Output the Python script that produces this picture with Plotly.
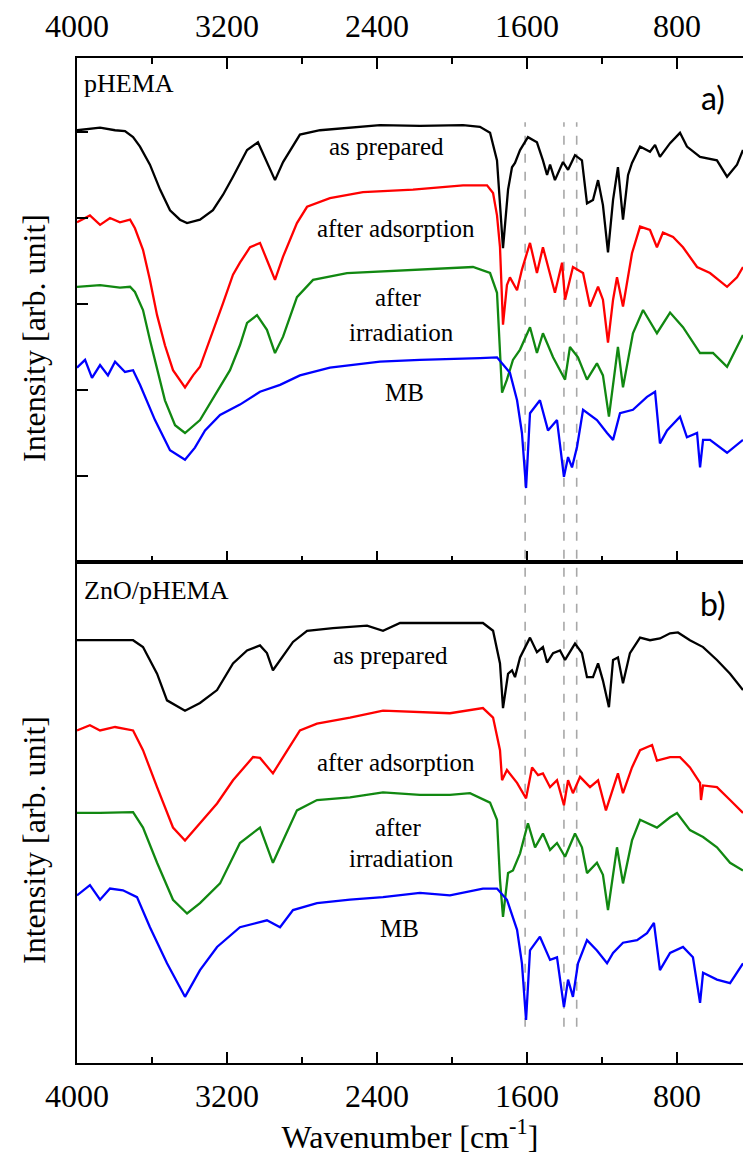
import plotly.graph_objects as go

# ---------------- data ----------------
# Panel a) pHEMA
wn_a_black = [4000, 3877, 3797, 3744, 3701, 3664, 3611, 3557, 3504, 3451, 3413, 3344, 3275, 3221, 3168, 3093, 3035, 2987, 2944, 2901,
              2848, 2811, 2704, 2384, 2171, 1941, 1851, 1797, 1760, 1744, 1728, 1701, 1680, 1664, 1637, 1595, 1547, 1515, 1493, 1477,
              1451, 1408, 1381, 1344, 1307, 1280, 1248, 1221, 1195, 1168, 1141, 1115, 1088, 1061, 1040, 997, 944, 917, 891, 837,
              784, 747, 677, 587, 533, 480, 448]
int_a_black = [5.02, 5.05, 5.02, 5.01, 4.94, 4.83, 4.62, 4.33, 4.09, 3.98, 3.94, 3.98, 4.09, 4.27, 4.48, 4.79, 4.88, 4.64, 4.44, 4.65,
               4.83, 4.97, 5.02, 5.08, 5.07, 5.08, 5.06, 4.99, 4.67, 4.21, 3.65, 4.33, 4.59, 4.64, 4.79, 4.94, 4.88, 4.67, 4.50, 4.62,
               4.44, 4.65, 4.56, 4.73, 4.67, 4.17, 4.21, 4.44, 4.15, 3.60, 4.21, 4.59, 3.98, 4.50, 4.64, 4.83, 4.77, 4.85, 4.71, 4.87,
               4.99, 4.83, 4.71, 4.67, 4.48, 4.62, 4.79]

wn_a_red = [4000, 3931, 3877, 3824, 3771, 3717, 3691, 3648, 3611, 3573, 3531, 3488, 3424, 3381, 3344, 3275, 3221, 3168, 3131, 3077,
            3024, 2981, 2944, 2901, 2827, 2773, 2651, 2475, 2208, 1941, 1813, 1781, 1760, 1744, 1728, 1707, 1691, 1653, 1627, 1584,
            1547, 1515, 1477, 1451, 1413, 1397, 1355, 1301, 1264, 1221, 1195, 1168, 1141, 1120, 1088, 1040, 997, 944, 907, 875,
            821, 768, 693, 624, 533, 480, 448]
int_a_red = [3.95, 4.03, 3.92, 4.00, 3.95, 3.98, 3.88, 3.63, 3.28, 2.87, 2.52, 2.23, 2.03, 2.17, 2.27, 2.70, 3.01, 3.34, 3.48, 3.66,
             3.71, 3.48, 3.28, 3.55, 3.94, 4.13, 4.23, 4.30, 4.33, 4.38, 4.38, 4.29, 4.03, 3.66, 2.76, 3.22, 3.31, 3.16, 3.40, 3.71,
             3.36, 3.66, 3.34, 3.13, 3.48, 3.05, 3.43, 3.36, 2.97, 3.20, 3.05, 2.55, 3.05, 3.31, 2.97, 3.59, 3.90, 3.86, 3.66, 3.83,
             3.78, 3.66, 3.43, 3.36, 3.20, 3.31, 3.43]

wn_a_green = [4000, 3877, 3771, 3717, 3691, 3648, 3611, 3531, 3477, 3424, 3344, 3264, 3184, 3131, 3093, 3040, 2987, 2944, 2901, 2827,
              2741, 2560, 2208, 1888, 1797, 1760, 1733, 1707, 1675, 1637, 1584, 1547, 1515, 1461, 1397, 1371, 1328, 1280, 1227, 1195,
              1163, 1115, 1088, 1035, 981, 907, 837, 768, 677, 608, 533, 464, 448]
int_a_green = [3.20, 3.22, 3.19, 3.20, 3.14, 2.93, 2.58, 1.88, 1.59, 1.50, 1.65, 1.94, 2.23, 2.52, 2.78, 2.87, 2.70, 2.43, 2.62, 3.08,
               3.28, 3.36, 3.40, 3.43, 3.36, 3.13, 1.97, 2.12, 2.35, 2.47, 2.73, 2.43, 2.66, 2.38, 2.12, 2.50, 2.38, 2.12, 2.31, 2.17,
               1.69, 2.50, 2.03, 2.66, 2.93, 2.66, 2.90, 2.73, 2.43, 2.43, 2.27, 2.58, 2.64]

wn_a_blue = [4000, 3957, 3920, 3877, 3835, 3797, 3744, 3701, 3664, 3584, 3504, 3424, 3371, 3317, 3237, 3131, 3024, 2917, 2811, 2651,
             2384, 2171, 1851, 1760, 1691, 1653, 1627, 1605, 1584, 1531, 1488, 1440, 1403, 1381, 1360, 1333, 1301, 1227, 1173, 1141,
             1104, 1035, 960, 917, 891, 853, 784, 747, 693, 677, 661, 624, 533, 448]
int_a_blue = [2.26, 2.35, 2.14, 2.29, 2.17, 2.33, 2.21, 2.23, 2.06, 1.65, 1.30, 1.19, 1.33, 1.53, 1.71, 1.83, 1.98, 2.06, 2.17, 2.26,
              2.33, 2.35, 2.37, 2.38, 2.20, 1.88, 1.50, 0.86, 1.73, 1.88, 1.53, 1.65, 0.99, 1.22, 1.10, 1.34, 1.77, 1.65, 1.50, 1.42,
              1.73, 1.77, 1.92, 1.98, 1.38, 1.53, 1.69, 1.45, 1.50, 1.10, 1.42, 1.42, 1.27, 1.42]

# Panel b) ZnO/pHEMA
wn_b_black = [4000, 3877, 3701, 3648, 3573, 3520, 3424, 3344, 3253, 3168, 3093, 3024, 2987, 2955, 2907, 2848, 2773, 2635, 2453, 2368,
              2277, 2171, 2011, 1835, 1781, 1744, 1728, 1701, 1680, 1664, 1637, 1584, 1547, 1515, 1493, 1461, 1424, 1397, 1344, 1307,
              1280, 1248, 1221, 1195, 1163, 1141, 1115, 1088, 1051, 997, 944, 891, 837, 795, 731, 661, 587, 517, 448]
int_b_black = [4.92, 4.92, 4.92, 4.84, 4.53, 4.22, 4.10, 4.19, 4.34, 4.65, 4.80, 4.86, 4.77, 4.57, 4.72, 4.90, 5.03, 5.06, 5.09, 5.03,
               5.12, 5.12, 5.12, 5.12, 5.03, 4.65, 4.13, 4.53, 4.57, 4.49, 4.72, 4.95, 4.78, 4.84, 4.66, 4.77, 4.80, 4.69, 4.88, 4.77,
               4.49, 4.49, 4.65, 4.45, 4.14, 4.69, 4.72, 4.42, 4.77, 4.95, 4.92, 4.94, 5.00, 5.01, 4.92, 4.84, 4.69, 4.53, 4.34]

wn_b_red = [4000, 3931, 3877, 3797, 3701, 3648, 3573, 3488, 3424, 3344, 3253, 3168, 3061, 3024, 2955, 2901, 2811, 2720, 2544, 2368,
            2171, 2011, 1835, 1781, 1744, 1733, 1707, 1680, 1653, 1605, 1573, 1541, 1515, 1477, 1440, 1403, 1381, 1355, 1317, 1264,
            1221, 1179, 1141, 1115, 1088, 1040, 997, 933, 907, 837, 784, 731, 677, 672, 661, 587, 517, 448]
int_b_red = [3.87, 3.93, 3.87, 3.91, 3.87, 3.64, 3.21, 2.74, 2.59, 2.79, 3.02, 3.29, 3.56, 3.55, 3.37, 3.56, 3.87, 3.95, 4.02, 4.10,
             4.08, 4.07, 4.13, 4.02, 3.64, 3.29, 3.41, 3.33, 3.26, 3.08, 3.44, 3.35, 3.37, 3.21, 3.29, 3.00, 3.29, 3.14, 3.33, 3.21,
             3.29, 2.94, 3.21, 3.37, 3.14, 3.44, 3.64, 3.70, 3.52, 3.56, 3.56, 3.44, 3.26, 3.06, 3.23, 3.21, 3.06, 2.91]

wn_b_green = [4000, 3877, 3701, 3648, 3573, 3488, 3413, 3344, 3237, 3131, 3024, 2955, 2907, 2827, 2720, 2544, 2368, 2171, 2011, 1904,
              1797, 1760, 1744, 1728, 1701, 1675, 1637, 1595, 1557, 1515, 1477, 1440, 1397, 1344, 1307, 1280, 1227, 1195, 1168, 1120,
              1088, 1040, 997, 907, 837, 800, 731, 661, 587, 517, 448]
int_b_green = [2.91, 2.91, 2.92, 2.74, 2.33, 1.90, 1.74, 1.86, 2.09, 2.56, 2.74, 2.33, 2.56, 2.94, 3.06, 3.09, 3.15, 3.12, 3.12, 3.14,
               3.03, 2.83, 2.13, 1.70, 2.21, 2.24, 2.44, 2.79, 2.51, 2.67, 2.48, 2.56, 2.40, 2.67, 2.51, 2.21, 2.33, 2.19, 1.78, 2.51,
               2.09, 2.59, 2.83, 2.74, 2.86, 2.91, 2.71, 2.63, 2.51, 2.33, 2.24]

wn_b_blue = [4000, 3931, 3877, 3824, 3755, 3680, 3611, 3520, 3424, 3344, 3253, 3131, 2987, 2917, 2848, 2720, 2544, 2368, 2171, 2011,
             1835, 1760, 1707, 1653, 1627, 1605, 1584, 1531, 1477, 1440, 1403, 1381, 1355, 1328, 1280, 1227, 1173, 1141, 1088, 1013,
             960, 923, 891, 837, 768, 715, 677, 661, 587, 517, 448]
int_b_blue = [1.95, 2.07, 1.90, 2.03, 2.01, 1.93, 1.58, 1.16, 0.77, 1.08, 1.35, 1.58, 1.66, 1.58, 1.78, 1.86, 1.90, 1.93, 1.98, 1.95,
              2.03, 2.03, 1.90, 1.55, 1.16, 0.50, 1.31, 1.47, 1.20, 1.23, 0.65, 0.97, 0.77, 1.16, 1.43, 1.31, 1.16, 1.28, 1.40, 1.43,
              1.51, 1.63, 1.08, 1.28, 1.35, 1.23, 0.70, 1.05, 0.97, 0.93, 1.16]

# Marker bands (dashed lines), cm^-1
band_lines = [1610, 1403, 1335]

x_tick_vals = [4000, 3200, 2400, 1600, 800]
x_tick_text = ["4000", "3200", "2400", "1600", "800"]
y_ticks_a = [1, 2, 3, 4, 5]

series_names = ["as prepared", "after adsorption", "after irradiation", "MB"]
panel_names = ["pHEMA", "ZnO/pHEMA"]
panel_letters = ["a)", "b)"]

# ---------------- styling ----------------
SERIF = "Liberation Serif, Times New Roman, serif"
SANS = "Lato, Open Sans, sans-serif"
COLORS = ["#000000", "#ff0000", "#118811", "#0000ff"]

fig = go.Figure()

panel_a = [(wn_a_black, int_a_black), (wn_a_red, int_a_red), (wn_a_green, int_a_green), (wn_a_blue, int_a_blue)]
panel_b = [(wn_b_black, int_b_black), (wn_b_red, int_b_red), (wn_b_green, int_b_green), (wn_b_blue, int_b_blue)]

for (xs, ys), name, col in zip(panel_a, series_names, COLORS):
    fig.add_trace(go.Scatter(x=xs, y=ys, mode="lines", name=name, xaxis="x", yaxis="y",
                             line=dict(color=col, width=2.3), showlegend=False))
for (xs, ys), name, col in zip(panel_b, series_names, COLORS):
    fig.add_trace(go.Scatter(x=xs, y=ys, mode="lines", name=name, xaxis="x2", yaxis="y2",
                             line=dict(color=col, width=2.3), showlegend=False))

split = 0.4985
xrange_ = [4000, 448]

axis_common = dict(showgrid=False, zeroline=False, showline=True, linecolor="black", linewidth=2,
                   automargin=False)
tickfont = dict(family=SERIF, size=32, color="black")

fig.update_layout(
    width=743, height=1155,
    margin=dict(l=77, r=0, t=58, b=92),
    plot_bgcolor="white", paper_bgcolor="white",
    font=dict(family=SERIF, color="black"),
    xaxis=dict(domain=[0, 1], anchor="y", side="top", range=xrange_,
               tickvals=x_tick_vals, ticktext=x_tick_text,
               ticks="inside", ticklen=11, tickwidth=2, tickcolor="black",
               minor=dict(dtick=400, tick0=0, ticks="inside", ticklen=6, tickwidth=2, tickcolor="black"),
               mirror="ticks", tickfont=tickfont,
               ticklabelstandoff=6, **axis_common),
    yaxis=dict(domain=[split, 1], anchor="x", range=[0, 5.86], tickvals=y_ticks_a,
               ticks="inside", ticklen=11, tickwidth=2, tickcolor="black",
               showticklabels=False, **axis_common),
    xaxis2=dict(domain=[0, 1], anchor="y2", side="bottom", range=xrange_,
                tickvals=x_tick_vals, ticktext=x_tick_text,
                ticks="inside", ticklen=11, tickwidth=2, tickcolor="black",
                minor=dict(dtick=400, tick0=0, ticks="inside", ticklen=6, tickwidth=2, tickcolor="black"),
                mirror=True, tickfont=tickfont,
                ticklabelstandoff=4,
                title=dict(text="Wavenumber [cm<sup>-1</sup>]", font=dict(family=SERIF, size=32, color="black"),
                           standoff=0),
                **axis_common),
    yaxis2=dict(domain=[0, split], anchor="x2", range=[0, 5.83], ticks="",
                showticklabels=False, **axis_common),
)

# dashed marker lines across both panels
for b in band_lines:
    fig.add_shape(type="line", xref="x", yref="paper", x0=b, x1=b, y0=0.036, y1=0.936,
                  line=dict(color="#a8a8a8", width=1.6, dash="dash"), layer="below")

# curve labels (data coordinates)
label_pos_a = [("as prepared", 2347, 4.83), ("after adsorption", 2299, 3.88),
               ("after", 2290, 3.07), ("irradiation", 2272, 2.67), ("MB", 2255, 1.97)]
label_pos_b = [("as prepared", 2330, 4.74), ("after adsorption", 2299, 3.50),
               ("after", 2290, 2.74), ("irradiation", 2272, 2.38), ("MB", 2280, 1.57)]
for txt, xv, yv in label_pos_a:
    fig.add_annotation(x=xv, y=yv, xref="x", yref="y", text=txt, showarrow=False,
                       font=dict(family=SERIF, size=25, color="black"))
for txt, xv, yv in label_pos_b:
    fig.add_annotation(x=xv, y=yv, xref="x2", yref="y2", text=txt, showarrow=False,
                       font=dict(family=SERIF, size=25, color="black"))

# panel names and letters
fig.add_annotation(x=0.008, y=0.95, xref="x domain", yref="y domain", text=panel_names[0],
                   showarrow=False, xanchor="left", yanchor="middle",
                   font=dict(family=SERIF, size=26, color="black"))
fig.add_annotation(x=0.008, y=0.944, xref="x2 domain", yref="y2 domain", text=panel_names[1],
                   showarrow=False, xanchor="left", yanchor="middle",
                   font=dict(family=SERIF, size=26, color="black"))
fig.add_annotation(x=0.955, y=0.922, xref="x domain", yref="y domain", text=panel_letters[0],
                   showarrow=False, xanchor="center", yanchor="middle",
                   font=dict(family=SANS, size=32, color="black"))
fig.add_annotation(x=0.955, y=0.918, xref="x2 domain", yref="y2 domain", text=panel_letters[1],
                   showarrow=False, xanchor="center", yanchor="middle",
                   font=dict(family=SANS, size=32, color="black"))

# y axis titles
for yc in [0.7214, 0.2219]:
    fig.add_annotation(x=-0.0646, y=yc, xref="paper", yref="paper", text="Intensity [arb. unit]",
                       textangle=-90, showarrow=False, xanchor="center", yanchor="middle",
                       font=dict(family=SERIF, size=32, color="black"))

# remove the default page margin so the 743x1155 figure fills the window exactly
fig.write_html("out.html",
               config={"displayModeBar": False},
               post_script="document.body.style.margin='0px';document.body.style.overflow='hidden';")
